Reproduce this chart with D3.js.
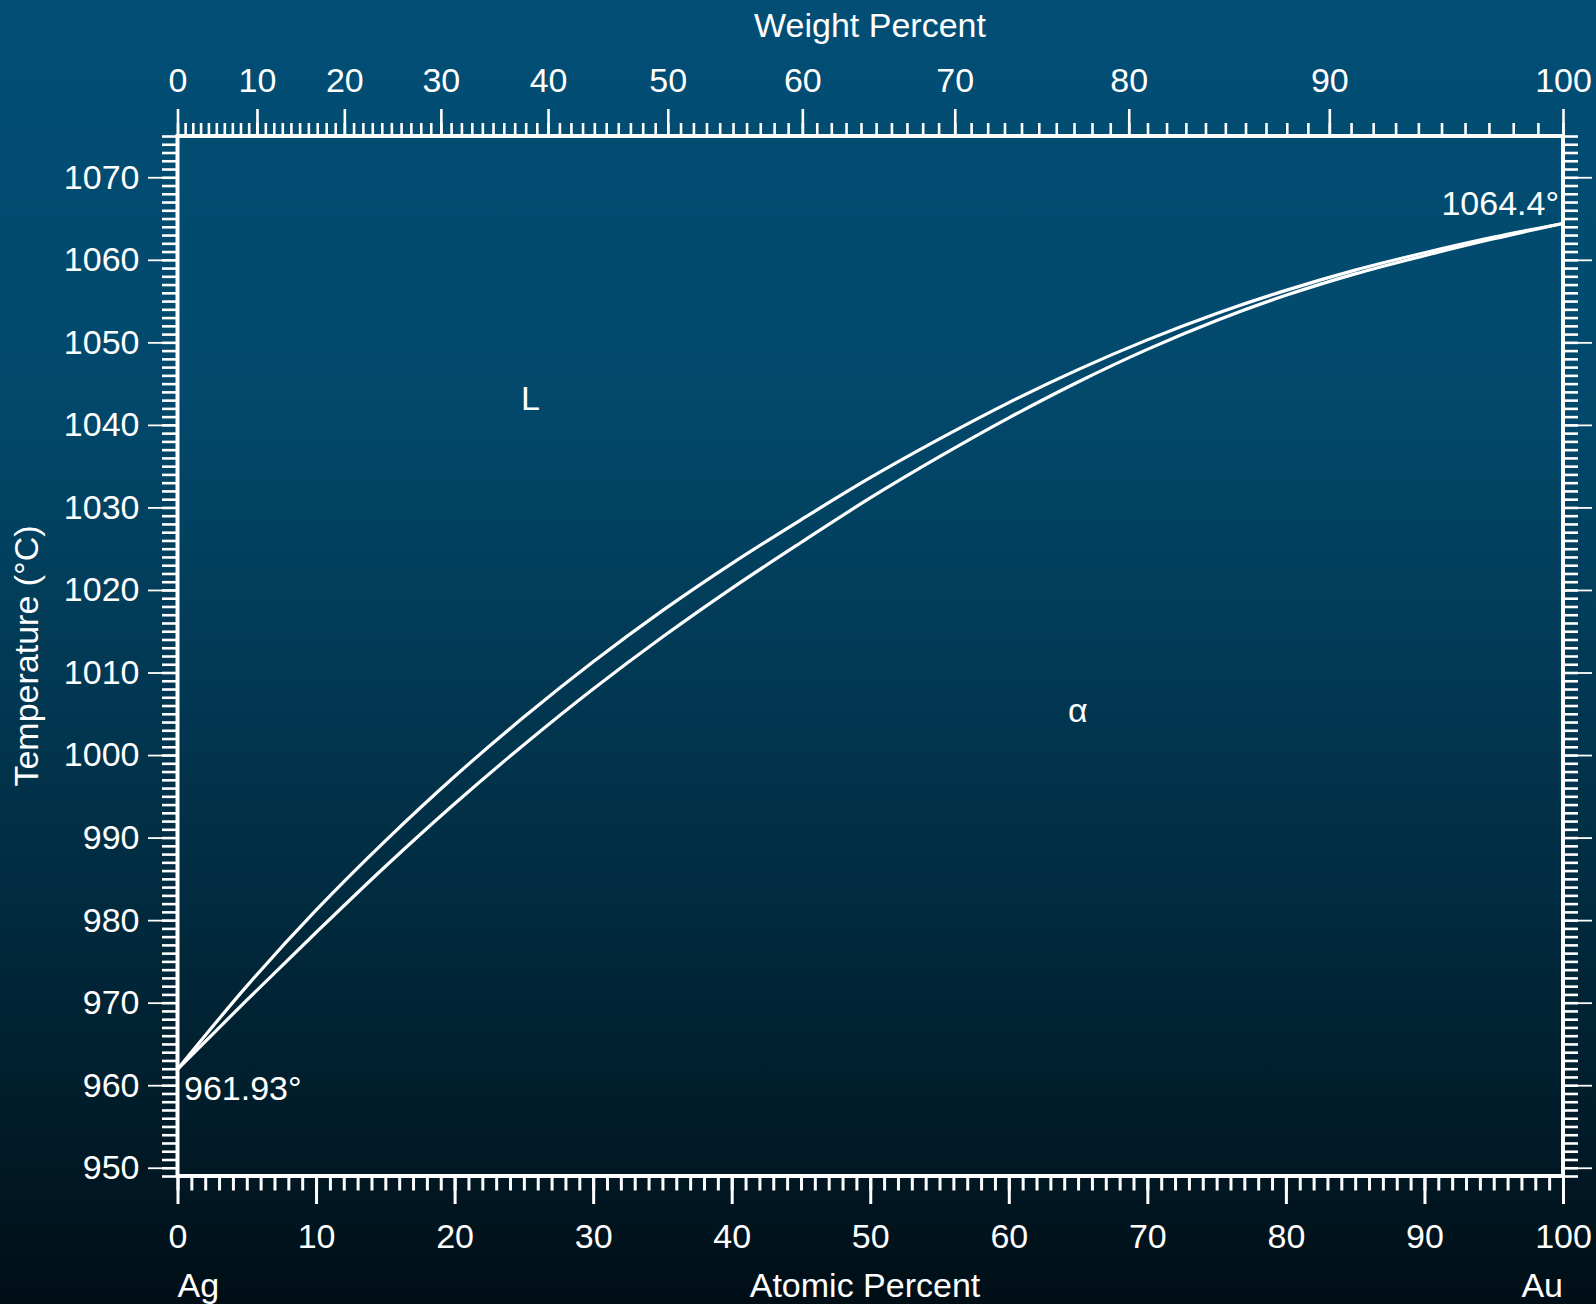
<!DOCTYPE html>
<html>
<head>
<meta charset="utf-8">
<script src="https://cdn.jsdelivr.net/npm/d3@7/dist/d3.min.js"></script>
<style>
  html, body { margin: 0; padding: 0; background: #000f17; }
  svg { display: block; }
  text { font-family: "Liberation Sans", Arial, Helvetica, sans-serif; fill: #fff; }
</style>
</head>
<body>
<svg id="chart" width="1596" height="1304"></svg>
<script>
// Ag-Au phase diagram
const atomicPct = [0, 5, 10, 15, 20, 25, 30, 35, 40, 45, 50, 55, 60, 65, 70, 75, 80, 85, 90, 95, 100];
const liquidus = [961.93, 972.0, 981.2, 989.6, 997.4, 1004.6, 1011.3, 1017.5, 1023.2, 1028.5, 1033.6,
  1038.3, 1042.7, 1046.7, 1050.3, 1053.5, 1056.3, 1058.75, 1060.85, 1062.75, 1064.4];
const solidus = [961.93, 970.3, 978.5, 986.5, 994.1, 1001.25, 1008.0, 1014.3, 1020.2, 1025.75, 1031.15,
  1036.15, 1040.85, 1045.2, 1049.15, 1052.65, 1055.7, 1058.3, 1060.5, 1062.55, 1064.4];

const tempTicks = [950, 960, 970, 980, 990, 1000, 1010, 1020, 1030, 1040, 1050, 1060, 1070];
const atomicTicks = [0, 10, 20, 30, 40, 50, 60, 70, 80, 90, 100];
const weightTicks = [0, 10, 20, 30, 40, 50, 60, 70, 80, 90, 100];

const massAg = 107.8682, massAu = 196.96657;

const svg = d3.select('#chart');
const W = 1596, H = 1304;
const FS = 34;
const margin = { top: 136, right: 33, bottom: 128, left: 177.5 };
const x0 = margin.left, x1 = W - margin.right;
const y0 = H - margin.bottom, y1 = margin.top;

const x = d3.scaleLinear().domain([0, 100]).range([x0, x1]);
const y = d3.scaleLinear().domain([949, 1075]).range([y0, y1]);

// weight % Au -> atomic % Au, so the top axis can share the x scale
const wtToAt = w => {
  const au = w / massAu, ag = (100 - w) / massAg;
  return 100 * au / (au + ag);
};

// background
const defs = svg.append('defs');
const grad = defs.append('linearGradient')
  .attr('id', 'bg').attr('x1', 0).attr('y1', 0).attr('x2', 0).attr('y2', 1);
[[0, '#024e75'], [0.3, '#02496c'], [0.5, '#023a56'], [0.7, '#012a3e'], [0.88, '#011a27'], [1, '#000e16']]
  .forEach(([o, c]) => grad.append('stop').attr('offset', o).attr('stop-color', c));
svg.append('rect').attr('width', W).attr('height', H).attr('fill', 'url(#bg)');

function styleAxis(g, width) {
  g.select('.domain').remove();
  g.attr('font-size', FS).attr('font-family', '"Liberation Sans", Arial, sans-serif').attr('color', '#fff');
  g.selectAll('line').attr('stroke', '#fff').attr('stroke-width', width);
  g.selectAll('text').attr('fill', '#fff');
}

const minorAt = d3.range(0, 101, 1);
const minorWt = d3.range(0, 101, 1).map(wtToAt);
const minorT = d3.range(949, 1076, 1);

// bottom: atomic percent
svg.append('g').attr('transform', `translate(0,${y0})`)
  .call(d3.axisBottom(x).tickValues(minorAt).tickSize(14.5).tickFormat(''))
  .call(g => styleAxis(g, 3));
svg.append('g').attr('transform', `translate(0,${y0})`)
  .call(d3.axisBottom(x).tickValues(atomicTicks).tickSize(28).tickPadding(19.5))
  .call(g => styleAxis(g, 3));

// top: weight percent
svg.append('g').attr('transform', `translate(0,${y1})`)
  .call(d3.axisTop(x).tickValues(minorWt).tickSize(13).tickFormat(''))
  .call(g => styleAxis(g, 2.6));
svg.append('g').attr('transform', `translate(0,${y1})`)
  .call(d3.axisTop(x).tickValues(weightTicks.map(wtToAt)).tickSize(27).tickPadding(17)
    .tickFormat((d, i) => weightTicks[i]))
  .call(g => styleAxis(g, 2.6));

// left: temperature
svg.append('g').attr('transform', `translate(${x0},0)`)
  .call(d3.axisLeft(y).tickValues(minorT).tickSize(15.5).tickFormat(''))
  .call(g => styleAxis(g, 2.6));
svg.append('g').attr('transform', `translate(${x0},0)`)
  .call(d3.axisLeft(y).tickValues(tempTicks).tickSize(29.5).tickPadding(8.5).tickFormat(d3.format('d')))
  .call(g => styleAxis(g, 1.8));

// right: temperature, no labels
svg.append('g').attr('transform', `translate(${x1},0)`)
  .call(d3.axisRight(y).tickValues(minorT).tickSize(15).tickFormat(''))
  .call(g => styleAxis(g, 2.6));
svg.append('g').attr('transform', `translate(${x1},0)`)
  .call(d3.axisRight(y).tickValues(tempTicks).tickSize(29).tickFormat(''))
  .call(g => styleAxis(g, 1.8));

// frame
svg.append('rect')
  .attr('x', x0).attr('y', y1).attr('width', x1 - x0).attr('height', y0 - y1)
  .attr('fill', 'none').attr('stroke', '#fff').attr('stroke-width', 4);

// liquidus and solidus
const line = d3.line()
  .x((d, i) => x(atomicPct[i]))
  .y(d => y(d))
  .curve(d3.curveCatmullRom);

svg.append('path').datum(liquidus).attr('d', line)
  .attr('fill', 'none').attr('stroke', '#fff').attr('stroke-width', 3.2);
svg.append('path').datum(solidus).attr('d', line)
  .attr('fill', 'none').attr('stroke', '#fff').attr('stroke-width', 3.2);

// titles
svg.append('text').attr('x', 870).attr('y', 36.5).attr('text-anchor', 'middle')
  .attr('font-size', FS).text('Weight Percent');
svg.append('text').attr('x', 865).attr('y', 1297).attr('text-anchor', 'middle')
  .attr('font-size', FS).text('Atomic Percent');
svg.append('text').attr('transform', `translate(38,${(y0 + y1) / 2}) rotate(-90)`)
  .attr('text-anchor', 'middle').attr('font-size', FS).text('Temperature (°C)');

svg.append('text').attr('x', x0).attr('y', 1297).attr('font-size', FS).text('Ag');
svg.append('text').attr('x', x1).attr('y', 1297).attr('text-anchor', 'end')
  .attr('font-size', FS).text('Au');

// annotations
svg.append('text').attr('x', 184).attr('y', 1100).attr('font-size', FS).text('961.93°');
svg.append('text').attr('x', 1559).attr('y', 215).attr('text-anchor', 'end')
  .attr('font-size', FS).text('1064.4°');
svg.append('text').attr('x', 521).attr('y', 410).attr('font-size', FS).text('L');
svg.append('text').attr('x', 1068).attr('y', 722).attr('font-size', FS).text('α');
</script>
</body>
</html>
